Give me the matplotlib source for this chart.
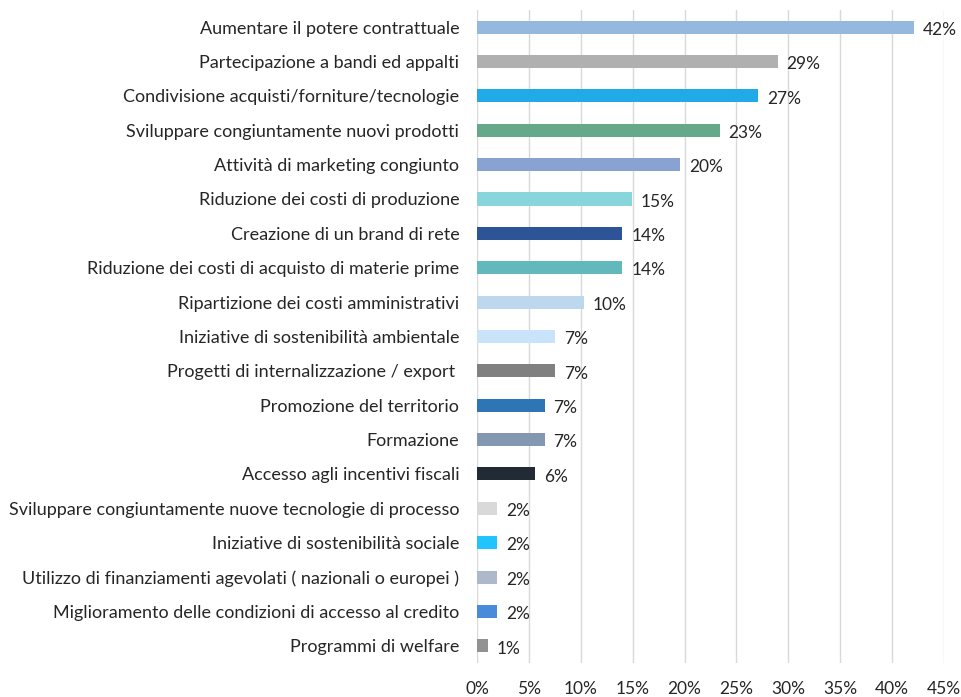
import matplotlib
matplotlib.use('Agg')
import matplotlib.pyplot as plt
from matplotlib.ticker import FuncFormatter

plt.rcParams['font.family'] = ['Lato', 'DejaVu Sans']

categories = [
    'Aumentare il potere contrattuale',
    'Partecipazione a bandi ed appalti',
    'Condivisione acquisti/forniture/tecnologie',
    'Sviluppare congiuntamente nuovi prodotti',
    'Attività di marketing congiunto',
    'Riduzione dei costi di produzione',
    'Creazione di un brand di rete',
    'Riduzione dei costi di acquisto di materie prime',
    'Ripartizione dei costi amministrativi',
    'Iniziative di sostenibilità ambientale',
    'Progetti di internalizzazione / export ',
    'Promozione del territorio',
    'Formazione',
    'Accesso agli incentivi fiscali',
    'Sviluppare congiuntamente nuove tecnologie di processo',
    'Iniziative di sostenibilità sociale',
    'Utilizzo di finanziamenti agevolati ( nazionali o europei )',
    'Miglioramento delle condizioni di accesso al credito',
    'Programmi di welfare',
]
values = [42.1, 29.0, 27.1, 23.4, 19.6, 14.9, 14.0, 14.0, 10.3, 7.5,
          7.5, 6.5, 6.5, 5.6, 1.9, 1.9, 1.9, 1.9, 1.0]
labels = ['42%', '29%', '27%', '23%', '20%', '15%', '14%', '14%', '10%', '7%',
          '7%', '7%', '7%', '6%', '2%', '2%', '2%', '2%', '1%']
colors = ['#95B8DF', '#B0B0B0', '#20AAE8', '#65A98A', '#88A2D2', '#88D5DC',
          '#2D5496', '#62B9BC', '#BDD7EE', '#C8E3FA', '#808080', '#2E75B6',
          '#8497B0', '#222A35', '#D9D9D9', '#22C4FF', '#ADB9CA', '#4A8ADB',
          '#929292']
xticks = [0, 5, 10, 15, 20, 25, 30, 35, 40, 45]

fig = plt.figure(figsize=(9.61, 6.97), dpi=100)
ax = fig.add_axes([0.4967, 0.0488, 0.4853, 0.9369])

pos = list(range(len(categories)))
ax.barh(pos, values, height=0.38, color=colors, zorder=2)
for p, v, t in zip(pos, values, labels):
    ax.text(v + 0.85, p + 0.08, t, va='center', ha='left', fontsize=12.5, color='#262626')

ax.set_ylim(len(categories) - 0.5, -0.5)
ax.set_xlim(0, 45)
ax.set_yticks(pos)
ax.set_yticklabels(categories, fontsize=13, color='#262626')
ax.set_xticks(xticks)
ax.xaxis.set_major_formatter(FuncFormatter(lambda x, _: '{:.0f}%'.format(x)))
ax.tick_params(axis='x', labelsize=12.5, labelcolor='#262626', length=0, pad=13)
ax.tick_params(axis='y', length=0, pad=13)
ax.grid(axis='x', color='#D9D9D9', linewidth=1, zorder=0)
for s in ax.spines.values():
    s.set_visible(False)

fig.savefig('out.png', dpi=100)
